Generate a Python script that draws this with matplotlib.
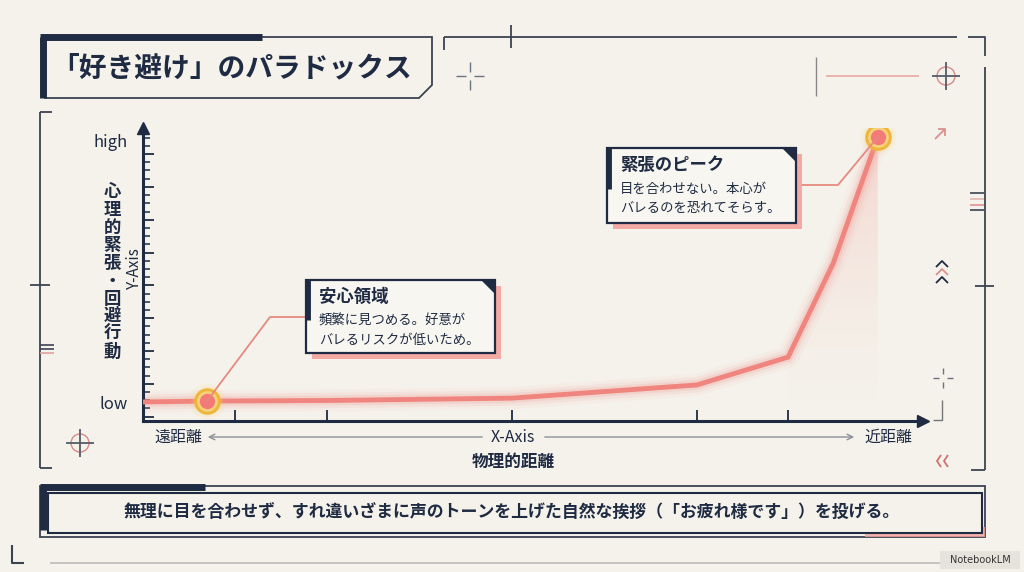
import numpy as np
import matplotlib.pyplot as plt
from matplotlib.patches import Polygon, Rectangle, Circle

plt.rcParams['font.family'] = ['Noto Sans CJK JP', 'DejaVu Sans']

# DATA
# distance (0 = far, 100 = near) and tension (0 = low, 100 = high)
distance = [0, 8.2, 23.6, 47.3, 71.0, 82.7, 88.5, 94.2]
tension = [6.5, 6.8, 7.0, 7.8, 12.3, 21.8, 53.9, 96.9]
x_ticks = [11.8, 23.6, 47.3, 71.0, 82.7]
y_tick_labels = ['low', 'high']
y_tick_values = [5.5, 95.2]
highlight_idx = [1, 7]

title = '「好き避け」のパラドックス'
y_label = '心理的緊張・回避行動'
x_label = '物理的距離'
x_left, x_right = '遠距離', '近距離'
box1_title, box1_lines = '安心領域', ['頻繁に見つめる。好意が', 'バレるリスクが低いため。']
box2_title, box2_lines = '緊張のピーク', ['目を合わせない。本心が', 'バレるのを恐れてそらす。']
footer = '無理に目を合わせず、すれ違いざまに声のトーンを上げた自然な挨拶（「お疲れ様です」）を投げる。'

BG = '#F5F2EB'
NAVY = '#1E2B42'
FRAME = '#3B4352'
PINK = '#F0857F'
SHADOW = '#F4A39D'
GOLD = '#EDB53A'

W, H = 1024, 572
fig = plt.figure(figsize=(W / 100, H / 100), dpi=100, facecolor=BG)

# background / decoration layer in pixel coords
bg = fig.add_axes([0, 0, 1, 1], zorder=0)
bg.set_xlim(0, W)
bg.set_ylim(H, 0)
bg.axis('off')
bg.set_facecolor(BG)

fg = fig.add_axes([0, 0, 1, 1], zorder=2)
fg.set_xlim(0, W)
fg.set_ylim(H, 0)
fg.axis('off')
fg.patch.set_alpha(0)


def line(a, xs, ys, c=FRAME, lw=1.3, **kw):
    a.plot(xs, ys, color=c, lw=lw, solid_capstyle='butt', **kw)


def crosshair(a, x, y, size=14, ring=False, dashed=False):
    if dashed:
        line(a, [x - size, x - 4], [y, y], c='#6B7280', lw=1)
        line(a, [x + 4, x + size], [y, y], c='#6B7280', lw=1)
        line(a, [x, x], [y - size, y - 4], c='#6B7280', lw=1)
        line(a, [x, x], [y + 4, y + size], c='#6B7280', lw=1)
    else:
        line(a, [x - size, x + size], [y, y], c='#555C68', lw=1.3)
        line(a, [x, x], [y - size, y + size], c='#555C68', lw=1.3)
    if ring:
        a.add_patch(Circle((x, y), 9, fill=False, ec='#D98A8A', lw=1))


# outer frame pieces
line(bg, [40, 52], [112, 112])
line(bg, [40, 40], [112, 468])
line(bg, [40, 52], [468, 468])
line(bg, [30, 50], [285, 285])
for yy, c in [(345, FRAME), (349, FRAME), (353, '#E0A0A0')]:
    line(bg, [40, 54], [yy, yy], c=c, lw=1.2)
line(bg, [444, 444], [50, 37])
line(bg, [444, 957], [37, 37])
line(bg, [511, 511], [25, 48])
line(bg, [968, 985, 985], [37, 37, 56])
line(bg, [985, 985], [67, 470])
line(bg, [971, 985], [470, 470])
line(bg, [975, 994], [286, 286])
for yy, c in [(193, FRAME), (199, '#E5B5B0'), (205, '#E09090'), (210, FRAME)]:
    line(bg, [970, 984], [yy, yy], c=c, lw=1.2)
line(bg, [816, 816], [57, 96], c='#888', lw=1)
line(bg, [826, 919], [76, 76], c='#E8A8A4', lw=1.2)
crosshair(bg, 470, 76, dashed=True)
crosshair(bg, 946, 76, ring=True)
crosshair(bg, 80, 443, ring=True)
crosshair(bg, 943, 378, size=10, dashed=True)
line(bg, [942, 942, 933], [400, 420, 420], c='#777', lw=1)
line(bg, [12, 12, 24], [545, 563, 563], lw=1.5)
line(bg, [50, 940], [563, 563], c='#BBBBBB', lw=1.2)
line(bg, [935, 945], [139, 129], c='#D99090', lw=1.3)
line(bg, [938, 945, 945], [129, 129, 136], c='#D99090', lw=1.3)
for xx in [937, 944]:
    line(bg, [xx + 4, xx, xx + 4], [455, 461, 467], c='#D07070', lw=1.3)
for yy, c in [(264, NAVY), (272, '#E09090'), (280, NAVY)]:
    line(bg, [936, 942, 948], [yy + 3, yy - 3, yy + 3], c=c, lw=1.3)

# title box
bg.add_patch(Polygon([[45, 37], [432, 37], [432, 85], [419, 98], [45, 98]],
                     closed=True, fc=BG, ec=FRAME, lw=1.3))
line(bg, [40, 262], [37, 37], c=NAVY, lw=5)
line(bg, [43, 43], [37, 98], c=NAVY, lw=5)
bg.text(232, 68, title, fontsize=20, fontweight='bold', color=NAVY, ha='center', va='center')

# footer box
bg.add_patch(Rectangle((40, 486), 945, 51, fill=False, ec=FRAME, lw=1.3))
line(bg, [40, 205], [487, 487], c=NAVY, lw=5)
bg.add_patch(Rectangle((865, 527), 120, 10, fc=SHADOW, ec='none', alpha=0.8))
bg.add_patch(Rectangle((48, 493), 934, 40, fc=BG, ec=NAVY, lw=1.5))
line(bg, [43, 43], [487, 530], c=NAVY, lw=5)
bg.text(512, 513, footer, fontsize=12.2, fontweight='bold', color=NAVY, ha='center', va='center')

# NotebookLM badge
bg.add_patch(Rectangle((940, 551), 80, 18, fc='#E6E3DC', ec='none'))
bg.text(980, 560, 'NotebookLM', fontsize=7, color='#333', ha='center', va='center',
        family=['DejaVu Sans'])

# chart
left, right, top, bottom = 143, 923, 128, 421
ax = fig.add_axes([left / W, (H - bottom) / H, (right - left) / W, (bottom - top) / H], zorder=1)
ax.set_xlim(0, 100)
ax.set_ylim(0, 100)
ax.patch.set_alpha(0)
for s in ['top', 'right']:
    ax.spines[s].set_visible(False)
for s in ['left', 'bottom']:
    ax.spines[s].set_color(NAVY)
    ax.spines[s].set_linewidth(2.2)
ax.plot(1, 0, '>', color=NAVY, ms=8, transform=ax.transAxes, clip_on=False)
ax.plot(0, 1, '^', color=NAVY, ms=8, transform=ax.transAxes, clip_on=False)

ax.set_xticks(x_ticks)
ax.set_xticklabels([])
ax.tick_params(axis='x', direction='in', length=8, width=1.3, color=NAVY)
ax.set_yticks(np.arange(1.5, 97, 11.2))
ax.set_yticks(np.arange(1.5, 97, 2.8), minor=True)
ax.set_yticklabels([])
ax.tick_params(axis='y', which='major', direction='in', length=8, width=1.3, color=NAVY)
ax.tick_params(axis='y', which='minor', direction='in', length=5, width=1.1, color=NAVY)
for lab, v in zip(y_tick_labels, y_tick_values):
    ax.text(-0.02, v, lab, transform=ax.get_yaxis_transform(), ha='right', va='center',
            fontsize=12, color=NAVY)

# gradient fill below the steep part, fading downwards
xs = np.array(distance[5:])
ys = np.array(tension[5:])
poly = Polygon(np.vstack([np.column_stack([xs, ys]), [[xs[-1], 0], [xs[0], 0]]]),
               closed=True, transform=ax.transData, fc='none', ec='none')
ax.add_patch(poly)
gx, gy = np.meshgrid(np.linspace(0, 1, 50), np.linspace(0, 1, 200))
alpha = 0.28 * gy ** 1.6
rgba = np.zeros((200, 50, 4))
rgba[..., :3] = np.array([241, 140, 135]) / 255
rgba[..., 3] = alpha
img = ax.imshow(rgba, extent=[xs[0], xs[-1], 0, ys[-1]], origin='lower', aspect='auto', zorder=1)
img.set_clip_path(poly)
ax.set_xlim(0, 100)
ax.set_ylim(0, 100)

# line with glow
for lw, a in [(16, 0.05), (11, 0.09), (7, 0.16)]:
    ax.plot(distance, tension, color=PINK, lw=lw, alpha=a, solid_capstyle='round', zorder=2)
ax.plot(distance, tension, color=PINK, lw=3.5, solid_joinstyle='miter', zorder=3)

# highlight markers
for i in highlight_idx:
    for r, a in [(26, 0.08), (22, 0.14), (19, 0.22)]:
        ax.plot(distance[i], tension[i], 'o', ms=r, color='#F7D35A', alpha=a, zorder=4, mec='none')
    ax.plot(distance[i], tension[i], 'o', ms=17, mfc='#F6D07A', mec=GOLD, mew=2, zorder=5)
    ax.plot(distance[i], tension[i], 'o', ms=11, color='#F27A78', mec='none', zorder=6)

# axis labels
bg.text(178, 437, x_left, fontsize=11.5, color=NAVY, ha='center', va='center')
bg.text(888, 437, x_right, fontsize=11.5, color=NAVY, ha='center', va='center')
bg.text(513, 437, 'X-Axis', fontsize=11.5, color=NAVY, ha='center', va='center')
bg.annotate('', xy=(205, 437), xytext=(485, 437),
            arrowprops=dict(arrowstyle='->', color='#8A8F98', lw=1))
bg.annotate('', xy=(857, 437), xytext=(542, 437),
            arrowprops=dict(arrowstyle='->', color='#8A8F98', lw=1))
bg.text(513, 462, x_label, fontsize=12, fontweight='bold', color=NAVY, ha='center', va='center')
bg.text(112, 272, '\n'.join(y_label), fontsize=12.5, fontweight='bold', color=NAVY,
        ha='center', va='center', linespacing=0.98)
bg.text(134, 268, 'Y-Axis', fontsize=11, color=NAVY, rotation=90, ha='center', va='center')


def to_px(x, y):
    return bg.transData.inverted().transform(ax.transData.transform((x, y)))


def callout(x0, y0, w, h, t, lines, anchor, elbow, joint):
    fg.add_patch(Rectangle((x0 + 6, y0 + 6), w, h, fc=SHADOW, ec='none', alpha=0.9))
    fg.add_patch(Rectangle((x0, y0), w, h, fc='#F8F6F1', ec=NAVY, lw=1.6))
    line(fg, [x0 + 1.5, x0 + 1.5], [y0, y0 + h * 0.55], c=NAVY, lw=3.5)
    fg.add_patch(Polygon([[x0 + w - 14, y0], [x0 + w, y0], [x0 + w, y0 + 14]],
                         closed=True, fc=NAVY, ec='none'))
    fg.text(x0 + 13, y0 + 17, t, fontsize=12.5, fontweight='bold', color=NAVY, va='center')
    for k, s in enumerate(lines):
        fg.text(x0 + 13, y0 + 41 + k * 19, s, fontsize=9.6, color=NAVY, va='center')
    px, py = to_px(*anchor)
    fg.plot([px, elbow[0], joint[0]], [py, elbow[1], joint[1]],
            color='#E58A80', lw=1.3, zorder=0)


callout(306, 280, 189, 73, box1_title, box1_lines,
        (distance[1], tension[1]), (270, 317), (306, 317))
callout(607, 148, 189, 75, box2_title, box2_lines,
        (distance[7], tension[7]), (838, 185), (802, 185))

fig.savefig('out.png', dpi=100, facecolor=BG)
